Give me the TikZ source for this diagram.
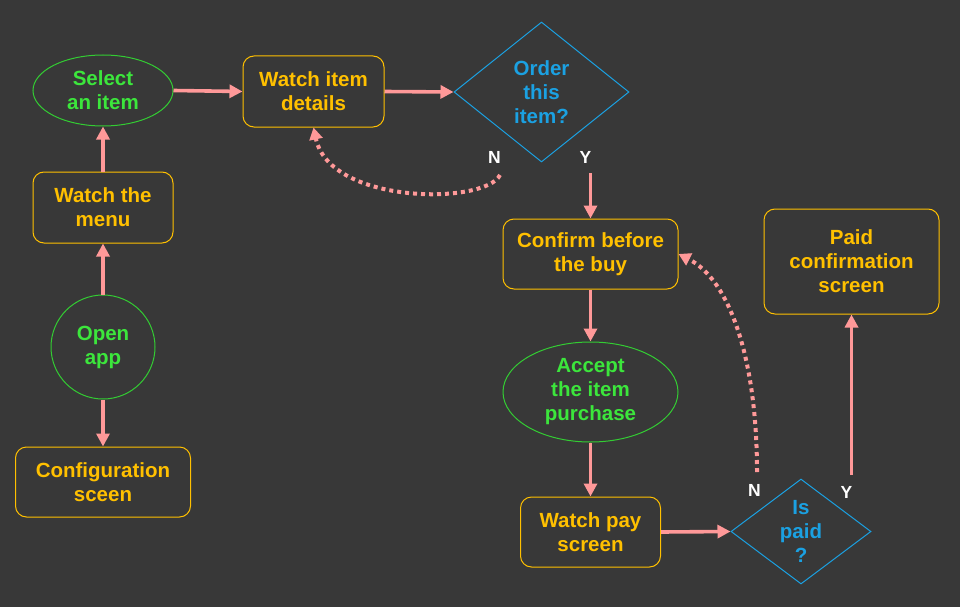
\documentclass[tikz,border=0pt]{standalone}
\usepackage{fontspec}
\setmainfont{Liberation Sans}
\usetikzlibrary{shapes.geometric,arrows.meta}
\definecolor{bg}{HTML}{383838}
\definecolor{orng}{HTML}{FFC000}
\definecolor{grn}{HTML}{3CE63C}
\definecolor{grnline}{HTML}{33CC33}
\definecolor{blu}{HTML}{1BA1E2}
\definecolor{arr}{HTML}{FF9999}
\tikzset{
  txt/.style={font=\bfseries\fontsize{20.5}{24}\selectfont, align=center, inner sep=0pt},
  boxnode/.style={txt, draw=orng, text=orng, line width=1pt, rounded corners=11pt},
  ellnode/.style={txt, ellipse, draw=grnline, text=grn, line width=1pt},
  dianode/.style={txt, diamond, draw=blu, text=blu, line width=1pt},
  flow/.style={draw=arr, line width=3.6pt, -{Triangle[length=13pt,width=13pt]}},
  dotflow/.style={draw=arr, line width=4pt, dash pattern=on 4pt off 4pt, -{Triangle[length=12pt,width=13pt]}},
  lab/.style={font=\bfseries\fontsize{17.5}{19}\selectfont, text=white, inner sep=0pt}
}
\begin{document}
\begin{tikzpicture}[x=1pt,y=-1pt]
\fill[bg] (0,0) rectangle (960,607);
\useasboundingbox (0,0) rectangle (960,607);

\node[ellnode, minimum width=140pt, minimum height=71pt] (sel) at (103,90.5) {Select\\an item};
\node[boxnode, minimum width=141pt, minimum height=71pt] (wid) at (313.5,91.5) {Watch item\\details};
\node[dianode, minimum width=175pt, minimum height=140pt] (ord) at (541.5,92) {Order\\this\\item?};
\node[boxnode, minimum width=140pt, minimum height=71pt] (menu) at (103,207.5) {Watch the\\menu};
\node[ellnode, circle, minimum size=104pt] (open) at (103,347) {Open\\app};
\node[boxnode, minimum width=175pt, minimum height=70pt] (conf) at (103,482) {Configuration\\sceen};
\node[boxnode, minimum width=175pt, minimum height=70pt] (cb) at (590.5,254) {Confirm before\\the buy};
\node[ellnode, minimum width=175pt, minimum height=100pt] (acc) at (590.5,392) {Accept\\the item\\purchase};
\node[boxnode, minimum width=140pt, minimum height=70pt] (wps) at (590.5,532) {Watch pay\\screen};
\node[dianode, minimum width=140pt, minimum height=105pt] (paid) at (801,531.5) {Is\\paid\\?};
\node[boxnode, minimum width=175pt, minimum height=105pt] (pcs) at (851.5,261.5) {Paid\\confirmation\\screen};

\node[lab] (n1) at (494.5,157) {N};
\node[lab] (y1) at (585.5,157) {Y};
\node[lab] (n2) at (754.5,490) {N};
\node[lab] (y2) at (846.5,492) {Y};

\coordinate (ys1) at (590.5,173);
\coordinate (ns1) at (500,175);
\coordinate (ys2) at (851.5,475);
\coordinate (ns2) at (757,472);

\draw[flow] (sel.east) -- (wid.west);
\draw[flow] (wid.east) -- (ord.west);
\draw[flow] (menu.north) -- (sel.south);
\draw[flow] (open.north) -- (menu.south);
\draw[flow] (open.south) -- (conf.north);
\draw[flow] (ys1) -- (cb.north);
\draw[flow] (cb.south) -- (acc.north);
\draw[flow] (acc.south) -- (wps.north);
\draw[flow] (wps.east) -- (paid.west);
\draw[flow] (ys2) -- (pcs.south);
\draw[dotflow] (ns1) .. controls (485,205) and (330,205) .. (wid.south);
\draw[dotflow] (ns2) .. controls (757,360) and (730,280) .. (cb.east);
\end{tikzpicture}
\end{document}
